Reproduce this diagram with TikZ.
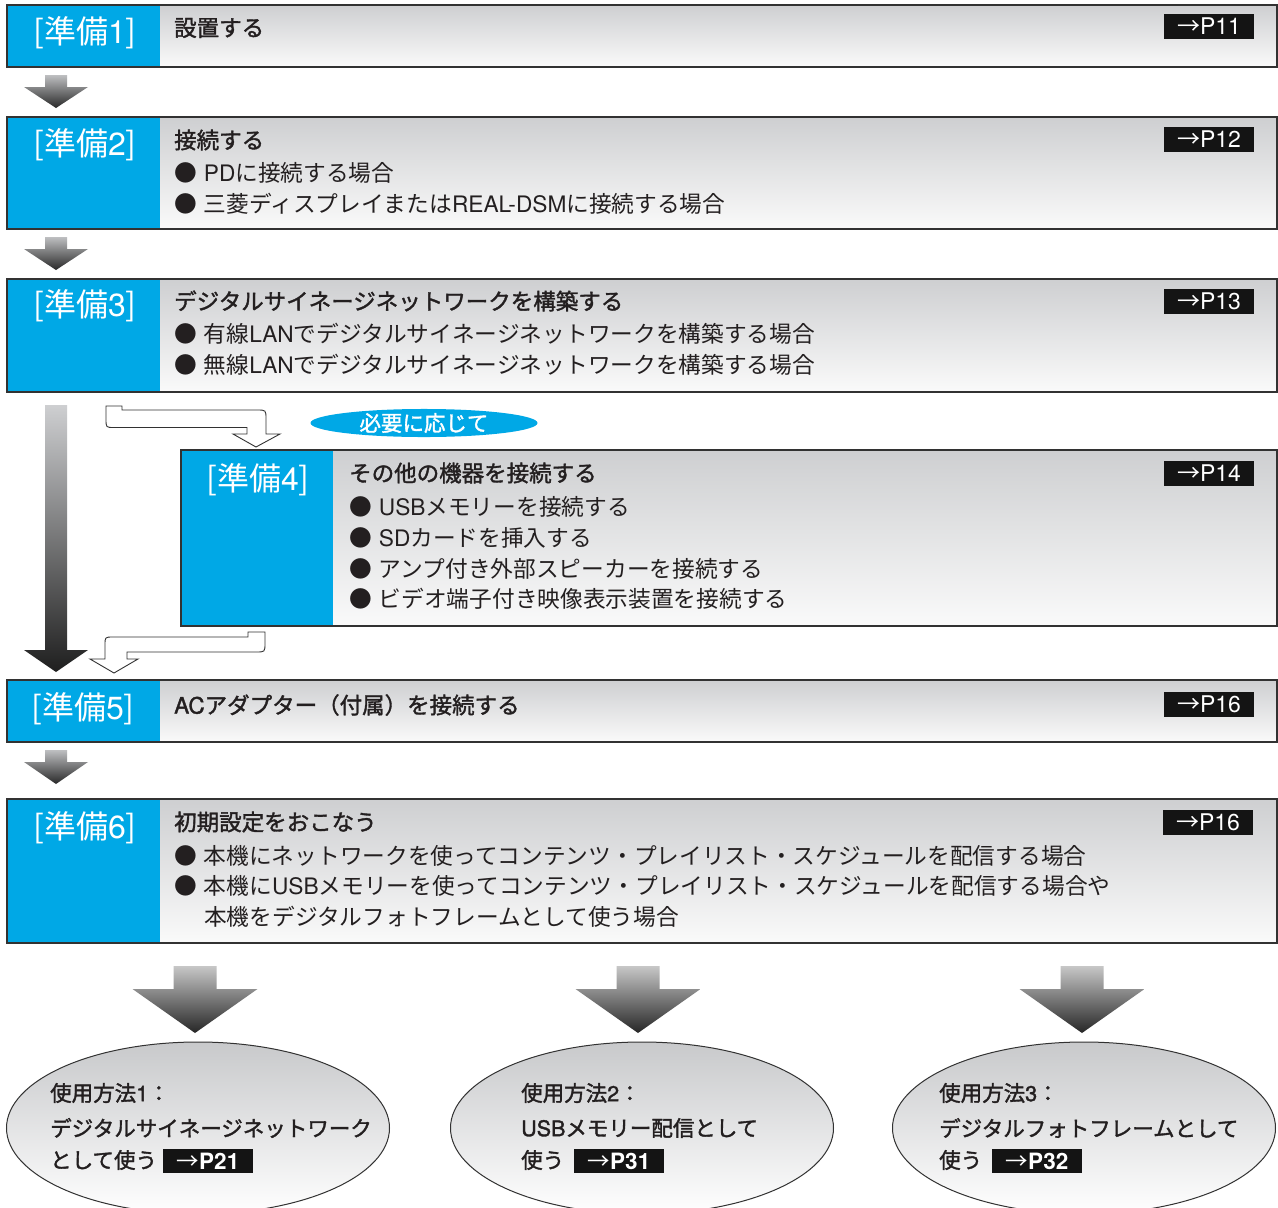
\documentclass[tikz,border=0pt]{standalone}
\usepackage{fontspec}
\setmainfont{Noto Sans CJK JP}
\newfontfamily\hvf{TeX Gyre Heros}
\newfontfamily\hvmf[FakeBold=1.6]{TeX Gyre Heros}
\newfontfamily\medf[FakeBold=1.6]{Noto Sans CJK JP}
\newcommand\hv[1]{{\hvf #1}}
\newcommand\hvm[1]{{\hvmf #1}}
\newcommand\hvb[1]{{\hvf\bfseries #1}}
\usetikzlibrary{shapes.geometric}
\definecolor{tagblue}{RGB}{0,168,230}
\definecolor{ink}{RGB}{35,31,32}
\definecolor{gtop}{RGB}{206,207,209}
\definecolor{gbot}{RGB}{250,250,250}
\definecolor{etop}{RGB}{200,201,203}
\definecolor{boxline}{RGB}{50,50,50}
\definecolor{arrtop}{RGB}{190,191,193}
\definecolor{arrbot}{RGB}{40,40,40}

\tikzset{
 graybox/.style={anchor=north west, inner sep=0pt, outer sep=0pt, top color=gtop, bottom color=gbot, draw=none},
 bluebox/.style={anchor=north west, inner sep=0pt, outer sep=0pt, fill=tagblue, draw=none},
 boxborder/.style={draw=boxline, line width=1.3pt},
 tagtext/.style={text=white, inner sep=0pt, font=\fontsize{32}{32}\selectfont},
 title/.style={anchor=west, inner sep=0pt, text=ink, font=\medf\fontsize{22.5}{22.5}\selectfont},
 item/.style={anchor=west, inner sep=0pt, text=ink, font=\fontsize{22.7}{22.7}\selectfont},
 pagetag/.style={fill=black!92, text=white, inner sep=0pt, minimum width=90pt, minimum height=25pt, font=\fontsize{23}{23}\selectfont},
 usage/.style={ellipse, draw=boxline, line width=1pt, top color=etop, bottom color=white, minimum width=383pt, minimum height=172pt, inner sep=0pt},
 utext/.style={anchor=west, inner sep=0pt, text=ink, font=\medf\fontsize{21.5}{21.5}\selectfont},
 utag/.style={fill=black!92, text=white, inner sep=0pt, minimum width=90pt, minimum height=24pt, font=\fontsize{22.5}{22.5}\selectfont},
 bentarrow/.style={draw=boxline, fill=white, line width=0.9pt, line join=miter},
 pill/.style={ellipse, fill=tagblue, minimum width=227pt, minimum height=28pt, inner sep=0pt, text=white, font=\medf\fontsize{21.5}{21.5}\selectfont}
}

% name, x, y, width, height, blue width
\newcommand\stepbox[6]{%
 \node[graybox, minimum width=#4pt, minimum height=#5pt] (#1) at (#2,#3) {};
 \node[bluebox, minimum width=#6pt, minimum height=#5pt] (#1t) at (#2,#3) {};
 \draw[boxborder] (#1.north west) rectangle (#1.south east);
}
% cx, stem half width, head half width, ytop, yhead, ytip, topcolor, bottomcolor
\newcommand\blkarrow[8]{%
 \shade[top color=#7, bottom color=#8] ({#1-#2},#4) -- ({#1+#2},#4) -- ({#1+#2},#5) -- ({#1+#3},#5) -- (#1,#6) -- ({#1-#3},#5) -- ({#1-#2},#5) -- cycle;
}
\newcommand\bul{●\hspace{7pt}}

\begin{document}
\begin{tikzpicture}[x=1pt,y=-1pt]
\fill[white] (0,0) rectangle (1278,1208);
\useasboundingbox (0,0) rectangle (1278,1208);

% ---- box 1
\stepbox{b1}{7}{5}{1270}{62}{153}
\node[tagtext] (l1) at (85,33) {[準備\hv{1}]};
\node[title] (t1) at (174,28) {設置する};
\node[pagetag] (p1) at (1209,26) {→\hv{P11}};

\blkarrow{56}{11}{32}{75}{87}{108}{arrtop}{arrbot}

% ---- box 2
\stepbox{b2}{7}{117}{1270}{112}{153}
\node[tagtext] (l2) at (85,145) {[準備\hv{2}]};
\node[title] (t2) at (174,140) {接続する};
\node[item] (i21) at (174,173) {\bul\hv{PD}に接続する場合};
\node[item] (i22) at (174,204) {\bul 三菱ディスプレイまたは\hv{REAL-DSM}に接続する場合};
\node[pagetag] (p2) at (1209,139) {→\hv{P12}};

\blkarrow{56}{11}{32}{237}{249}{270}{arrtop}{arrbot}

% ---- box 3
\stepbox{b3}{7}{279}{1270}{113}{153}
\node[tagtext] (l3) at (85,306) {[準備\hv{3}]};
\node[title] (t3) at (174,301) {デジタルサイネージネットワークを構築する};
\node[item] (i31) at (174,334) {\bul 有線\hv{LAN}でデジタルサイネージネットワークを構築する場合};
\node[item] (i32) at (174,365) {\bul 無線\hv{LAN}でデジタルサイネージネットワークを構築する場合};
\node[pagetag] (p3) at (1209,301) {→\hv{P13}};

% ---- long arrow
\blkarrow{56}{11}{32}{405}{650}{672}{gtop}{black!88}

% ---- bent arrows
\draw[bentarrow] (106,406) -- (122,406) -- (122,410) -- (257,410) .. controls (266,410) .. (266,419) -- (266,434) -- (280,434) -- (256,447) -- (233,434) -- (247,434) -- (247,427.5) -- (114,427.5) .. controls (106,427.5) .. (106,419) -- cycle;
\node[pill] (need) at (424,423) {必要に応じて};

% ---- box 4
\stepbox{b4}{181}{450}{1096}{176}{152}
\node[tagtext] (l4) at (258,480) {[準備\hv{4}]};
\node[title] (t4) at (349,473) {その他の機器を接続する};
\node[item] (i41) at (349,507) {\bul\hv{USB}メモリーを接続する};
\node[item] (i42) at (349,538) {\bul\hv{SD}カードを挿入する};
\node[item] (i43) at (349,569) {\bul アンプ付き外部スピーカーを接続する};
\node[item] (i44) at (349,599) {\bul ビデオ端子付き映像表示装置を接続する};
\node[pagetag] (p4) at (1209,473) {→\hv{P14}};

\draw[bentarrow] (248,632) -- (265,632) -- (265,643) .. controls (265,652) .. (256,652) -- (127,652) -- (127,659) -- (138,659) -- (114,673) -- (90,659) -- (105,659) -- (105,645) .. controls (105,637) .. (113,637) -- (248,637) -- cycle;

% ---- box 5
\stepbox{b5}{7}{680}{1270}{62}{153}
\node[tagtext] (l5) at (83,709) {[準備\hv{5}]};
\node[title] (t5) at (174,705) {\hvm{AC}アダプター（付属）を接続する};
\node[pagetag] (p5) at (1209,704) {→\hv{P16}};

\blkarrow{56}{11}{32}{750}{762}{784}{arrtop}{arrbot}

% ---- box 6
\stepbox{b6}{7}{799}{1270}{144}{153}
\node[tagtext] (l6) at (85,828) {[準備\hv{6}]};
\node[title] (t6) at (174,822) {初期設定をおこなう};
\node[item] (i61) at (174,856) {\bul 本機にネットワークを使ってコンテンツ・プレイリスト・スケジュールを配信する場合};
\node[item] (i62) at (174,886) {\bul 本機に\hv{USB}メモリーを使ってコンテンツ・プレイリスト・スケジュールを配信する場合や};
\node[item] (i63) at (204,917) {本機をデジタルフォトフレームとして使う場合};
\node[pagetag] (p6) at (1208,822) {→\hv{P16}};

% ---- bottom arrows
\blkarrow{195}{21.5}{62.5}{966}{989}{1033}{black!22}{black!85}
\blkarrow{638}{21.5}{62.5}{966}{989}{1033}{black!22}{black!85}
\blkarrow{1082}{21.5}{62.5}{966}{989}{1033}{black!22}{black!85}

% ---- usage ellipses
\node[usage] (u1) at (198,1128) {};
\node[usage] (u2) at (642,1128) {};
\node[usage] (u3) at (1084,1128) {};

\node[utext] (u1a) at (50,1093) {使用方法\hvm{1}：};
\node[utext] (u1b) at (50,1128) {デジタルサイネージネットワーク};
\node[utext] (u1c) at (50,1160) {として使う};
\node[utag] (u1p) at (208,1161) {→\hvb{P21}};

\node[utext] (u2a) at (521,1093) {使用方法\hvm{2}：};
\node[utext] (u2b) at (521,1128) {\hvm{USB}メモリー配信として};
\node[utext] (u2c) at (521,1160) {使う};
\node[utag] (u2p) at (619,1161) {→\hvb{P31}};

\node[utext] (u3a) at (939,1093) {使用方法\hvm{3}：};
\node[utext] (u3b) at (939,1128) {デジタルフォトフレームとして};
\node[utext] (u3c) at (939,1160) {使う};
\node[utag] (u3p) at (1037,1161) {→\hvb{P32}};
\end{tikzpicture}
\end{document}
